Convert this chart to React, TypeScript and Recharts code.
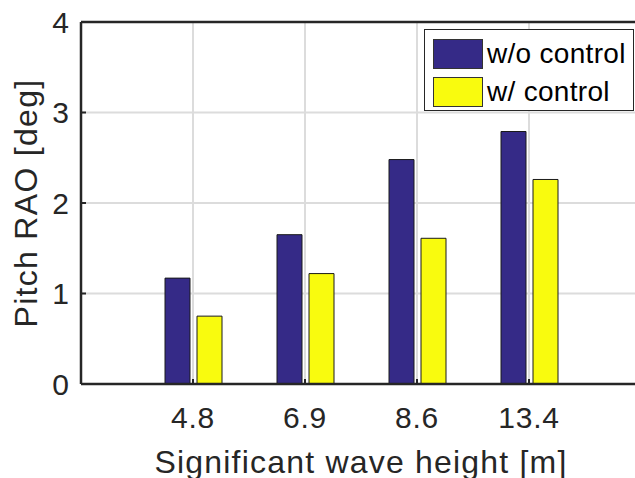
import { BarChart, Bar, XAxis, YAxis, CartesianGrid } from 'recharts';

const categories = ['4.8', '6.9', '8.6', '13.4'];
const withoutControl = [1.17, 1.65, 2.48, 2.79];
const withControl = [0.75, 1.22, 1.61, 2.26];
const yTicks = [0, 1, 2, 3, 4];

const seriesNames = ['w/o control', 'w/ control'];
const seriesColors = ['#352a87', '#f9fb0e'];

const data = categories.map((hs, i) => ({
  hs,
  without: withoutControl[i],
  with: withControl[i],
}));

const font = '"Liberation Sans", Arial, Helvetica, sans-serif';
const axisColor = '#262626';

// MATLAB-style boxed legend, laid over the plot
function MatlabLegend() {
  return (
    <div
      style={{
        position: 'absolute',
        left: 424,
        top: 29,
        width: 208,
        height: 80,
        border: `1.5px solid ${axisColor}`,
        background: '#fff',
        fontFamily: font,
        fontSize: 28,
        color: '#000',
        zIndex: 2,
      }}
    >
      {seriesNames.map((name, i) => (
        <div key={name} style={{ display: 'flex', alignItems: 'center', height: 38, marginTop: i === 0 ? 5 : 0, marginLeft: 8 }}>
          <div
            style={{
              width: 48,
              height: 28,
              background: seriesColors[i],
              border: '1px solid #333',
              marginRight: 4,
            }}
          />
          <span style={{ lineHeight: '30px', letterSpacing: 0.3 }}>{name}</span>
        </div>
      ))}
    </div>
  );
}

export default function App() {
  return (
    <div style={{ position: 'absolute', left: 0, top: 0, width: 635, height: 478, overflow: 'hidden', background: '#fff' }}>
      <BarChart
        width={660}
        height={478}
        data={data}
        margin={{ top: 0, right: 19, left: 0, bottom: 0 }}
        barSize={25}
        barGap={7}
      >
        <CartesianGrid stroke="#dcdcdc" strokeWidth={2} />
        <XAxis
          dataKey="hs"
          height={94}
          padding={{ left: 56, right: 56 }}
          axisLine={{ stroke: axisColor, strokeWidth: 2.5 }}
          tickLine={{ stroke: axisColor, strokeWidth: 2 }}
          tickSize={-5}
          tickMargin={28}
          tick={{ fill: axisColor, fontSize: 30, fontFamily: font, letterSpacing: 0.8 }}
          label={({ viewBox }: any) => (
            <text
              x={viewBox.x + viewBox.width / 2}
              y={viewBox.y + viewBox.height - 5}
              textAnchor="middle"
              fill={axisColor}
              fontSize={32}
              fontFamily={font}
              letterSpacing={1.2}
            >
              Significant wave height [m]
            </text>
          )}
        />
        <XAxis
          xAxisId="top"
          orientation="top"
          dataKey="hs"
          height={22}
          padding={{ left: 56, right: 56 }}
          axisLine={{ stroke: axisColor, strokeWidth: 2.5 }}
          tickLine={{ stroke: axisColor, strokeWidth: 2 }}
          tickSize={-5}
          tick={false}
        />
        <YAxis
          width={81}
          domain={[0, 4]}
          ticks={yTicks}
          axisLine={{ stroke: axisColor, strokeWidth: 2.5 }}
          tickLine={{ stroke: axisColor, strokeWidth: 2 }}
          tickSize={-5}
          tickMargin={17}
          tick={{ fill: axisColor, fontSize: 30, fontFamily: font }}
          label={({ viewBox }: any) => (
            <text
              x={37}
              y={viewBox.y + viewBox.height / 2}
              transform={`rotate(-90, 37, ${viewBox.y + viewBox.height / 2})`}
              textAnchor="middle"
              fill={axisColor}
              fontSize={32}
              fontFamily={font}
              letterSpacing={1.3}
            >
              Pitch RAO [deg]
            </text>
          )}
        />
        <Bar dataKey="without" name={seriesNames[0]} fill={seriesColors[0]} stroke="#1a1a1a" strokeWidth={1} isAnimationActive={false} />
        <Bar dataKey="with" name={seriesNames[1]} fill={seriesColors[1]} stroke="#1a1a1a" strokeWidth={1} isAnimationActive={false} />
      </BarChart>
      <MatlabLegend />
    </div>
  );
}
